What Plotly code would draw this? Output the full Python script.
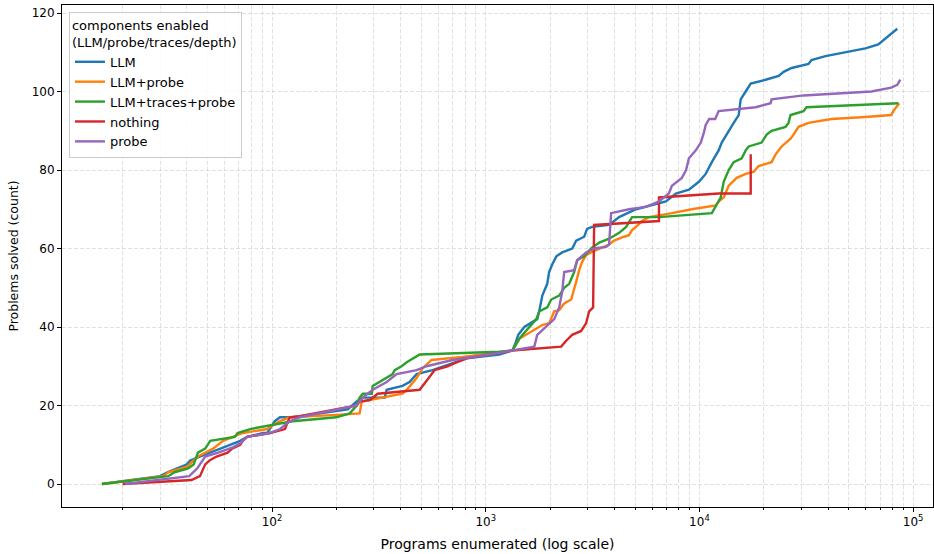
import plotly.graph_objects as go

# ---------------- data ----------------
llm_x = [16, 30, 32.4, 40, 41.4, 46, 51, 57, 64, 71,
         76.5, 91, 95, 103, 109, 125, 226, 249, 266, 337,
         344, 408, 440, 475, 564, 813, 1157, 1333, 1380, 1420,
         1515, 1634, 1742, 1780, 1840, 1940, 1980, 2050, 2140, 2280,
         2540, 2650, 2890, 2980, 3150, 3780, 4210, 5050, 6000, 6970,
         7760, 8930, 9940, 10700, 11430, 12300, 12720, 13700, 14470, 15270,
         15600, 16460, 17380, 20400, 23500, 24770, 27000, 32400, 33450, 38900,
         48200, 59800, 68700, 76500, 84300]
llm_y = [0, 2, 3, 5, 6, 7, 8, 9, 10, 11,
         12, 13, 13, 16, 17, 17, 19, 21, 22, 22,
         24, 25, 26, 28, 29, 32, 33, 34, 36, 38,
         40, 41, 42, 44, 48, 51, 54, 56, 58, 59,
         60, 62, 63, 65, 65.5, 66, 68, 70, 71, 72,
         74, 75, 77, 79, 82, 85, 87, 90, 92, 94,
         98, 100, 102, 103, 104, 105, 106, 107, 108, 109,
         110, 111, 112, 114, 116]

llm_probe_x = [16, 31, 32.7, 36, 40, 45, 49, 53, 59, 73, 95, 101,
               109, 121, 201, 257, 263, 330, 408, 427, 475, 507,
               558, 779, 1157, 1333, 1435, 1598, 1840, 1982, 2093, 2207,
               2329, 2512, 2594, 2650, 2737, 2827, 2951, 3112, 3779, 3983,
               4436, 4684, 4837, 5047, 5385, 5807, 7433, 9215, 11930, 12300,
               12990, 13710, 14940, 16460, 17940, 18900, 21770, 22730, 24240, 26700,
               27570, 29100, 32400, 41480, 59800, 79000, 80740, 86100]
llm_probe_y = [0, 2, 3, 3.6, 4.4, 7, 8, 9, 11, 13, 14, 15,
               16, 17, 17.6, 18, 21, 22, 23, 24, 27, 29.5,
               31.6, 32.4, 33.7, 34, 37, 38.5, 40.5, 41, 44, 44.3,
               46, 47, 49.4, 51.5, 54.5, 56.6, 58.3, 59, 61, 62,
               63, 63.4, 64.7, 65.5, 67, 68, 69, 70, 71, 72,
               73, 76, 78, 79, 79.5, 81, 82, 84, 86, 88,
               89, 91, 92, 93, 93.5, 94, 95, 97]

llm_traces_probe_x = [16, 32.7, 35, 40.5, 43, 45, 48.7, 51.4, 67, 69,
                      79, 100, 125, 200, 231, 249, 257, 266, 293, 296,
                      319, 367, 375, 404, 427, 455, 491, 1157, 1333, 1435,
                      1548, 1725, 1780, 1942, 2026, 2207, 2330, 2458, 2594, 2680,
                      2888, 3112, 3400, 3780, 4210, 4540, 4840, 6470, 11430, 12580,
                      12990, 13710, 14470, 15770, 16460, 17000, 19550, 20630, 21770, 25300,
                      26120, 26700, 30700, 31700, 85200]
llm_traces_probe_y = [0, 2, 3, 4, 5, 8, 9, 11, 12, 13,
                      14, 15, 16, 17, 18, 20, 22, 23, 23, 25,
                      26, 28, 29, 30, 31, 32, 33, 33.7, 34, 37,
                      39, 42, 44, 45, 47, 48, 50, 51, 54, 57,
                      58, 60, 61.5, 62.5, 64, 65.5, 68, 68, 69, 73,
                      77, 80, 82, 83, 85, 86, 87, 89, 90, 91,
                      92, 94, 95, 96, 97]

nothing_x = [20, 42, 46, 48.7, 51, 55, 62, 65, 71, 73,
             76.5, 98, 115, 121, 135, 249, 257, 287, 312, 491,
             576, 663, 730, 813, 1157, 1333, 2255, 2380, 2539, 2797,
             2951, 3048, 3181, 3216, 6468, 6468, 12300, 17380, 17380]
nothing_y = [0, 1, 2, 5, 6, 7, 8, 9, 10, 11,
             12, 13, 14, 17, 17.3, 20, 21, 21.4, 23, 24,
             29, 30, 31, 32, 33.4, 34, 35, 36.5, 38, 39,
             41, 44, 45, 66, 67, 73, 74, 74, 84]

probe_x = [20.5, 41, 44.7, 48.7, 56, 66, 71, 76.5, 98, 109,
           121, 135, 249, 266, 296, 344, 383, 475, 529, 699,
           1041, 1333, 1688, 1742, 1920, 2093, 2207, 2280, 2329, 2594,
           2679, 2951, 3216, 3658, 3779, 3861, 4684, 5620, 6468, 7194,
           7433, 8276, 8660, 8930, 9620, 10150, 10490, 10700, 11110, 11850,
           12300, 18340, 21530, 21770, 30700, 63800, 79000, 84300, 87100]
probe_y = [0, 2, 4, 7, 8, 9.4, 10.4, 12, 13, 14,
           16, 17, 20, 22, 24, 26, 28, 29, 30, 31.6,
           33, 34, 35, 38, 40, 42, 45, 49, 54, 54.5,
           57, 59, 60, 60.4, 61, 69, 70, 70.6, 72, 74,
           76, 78, 80, 83, 85, 87, 89.5, 91.5, 93, 93,
           95, 96, 97, 98, 99, 100, 101, 101.7, 103]

series_names = ["LLM", "LLM+probe", "LLM+traces+probe", "nothing", "probe"]
series_x = [llm_x, llm_probe_x, llm_traces_probe_x, nothing_x, probe_x]
series_y = [llm_y, llm_probe_y, llm_traces_probe_y, nothing_y, probe_y]
colors = ["#1f77b4", "#ff7f0e", "#2ca02c", "#d62728", "#9467bd"]

x_major = [100, 1000, 10000, 100000]
x_major_text = ["10<sup>2</sup>", "10<sup>3</sup>", "10<sup>4</sup>", "10<sup>5</sup>"]
x_minor = [m * 10 ** e for e in range(1, 5) for m in range(2, 10)]
y_ticks = [0, 20, 40, 60, 80, 100, 120]

# ---------------- figure ----------------
fig = go.Figure()
for name, xs, ys, c in zip(series_names, series_x, series_y, colors):
    assert len(xs) == len(ys), name
    fig.add_trace(go.Scatter(x=xs, y=ys, mode="lines", name=name,
                             line=dict(color=c, width=2.4)))

grid_c = "rgba(200,200,200,0.55)"
fig.update_layout(
    width=934, height=554,
    margin=dict(l=62, r=1, t=5, b=47, autoexpand=False),
    paper_bgcolor="white", plot_bgcolor="white",
    font=dict(family="DejaVu Sans", size=12, color="black"),
    legend=dict(
        title=dict(text="components enabled<br>(LLM/probe/traces/depth)",
                   font=dict(size=13)),
        font=dict(size=13),
        x=0.008, y=0.986, xanchor="left", yanchor="top",
        bgcolor="rgba(255,255,255,0.85)", bordercolor="#cccccc", borderwidth=1,
        tracegroupgap=0, itemwidth=30,
    ),
    xaxis=dict(
        type="log", range=[1.0173, 5.093],
        showline=True, mirror=True, linecolor="black", linewidth=1,
        ticks="outside", ticklen=4, tickcolor="black",
        tickvals=x_major, ticktext=x_major_text,
        showgrid=True, gridcolor=grid_c, griddash="4px,2px", gridwidth=1,
        minor=dict(tickvals=x_minor, ticks="outside", ticklen=2, tickcolor="black",
                   showgrid=True, gridcolor=grid_c, griddash="4px,2px", gridwidth=1),
        zeroline=False, automargin=False,
        title=dict(text="Programs enumerated (log scale)", standoff=10),
    ),
    yaxis=dict(
        range=[-5.86, 122.04],
        showline=True, mirror=True, linecolor="black", linewidth=1,
        ticks="outside", ticklen=4, tickcolor="black",
        tickvals=y_ticks,
        showgrid=True, gridcolor=grid_c, griddash="4px,2px", gridwidth=1,
        zeroline=False, automargin=False,
        title=dict(text="Problems solved (count)", font=dict(size=12.5), standoff=10),
    ),
)

fig.write_html("out.html", config={"displayModeBar": False},
               post_script="document.body.style.margin='0';")
